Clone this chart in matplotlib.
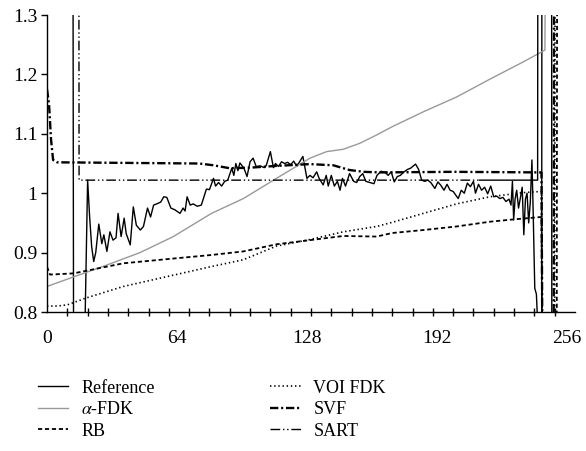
import matplotlib
matplotlib.use("Agg")
import matplotlib.pyplot as plt
from matplotlib.ticker import FuncFormatter

plt.rcParams['font.family'] = ['Liberation Serif', 'DejaVu Serif']
plt.rcParams['mathtext.fontset'] = 'stix'
plt.rcParams['lines.scale_dashes'] = False

# Reference (noisy profile); values off-scale run past the axis limits
ref_x = [0, 12.8, 13.1, 18.3, 20, 21, 22, 23, 24, 25.5, 27, 28, 29.5, 31, 32.5, 34, 35, 36.5, 38, 39,
         41, 42.5, 44, 46, 47.5, 49.5, 51, 52.5, 54, 56, 57.5, 59, 61, 63, 65.5, 67, 68, 69, 70.5, 72,
         74, 76, 77, 78.5, 80, 82, 83, 84.5, 86, 87.5, 89, 91, 92, 93, 94, 95, 97, 98.5, 100, 101.5,
         103, 105, 107, 108, 110, 111.5, 112.5, 114, 115.5, 117, 118.5, 120, 121.5, 123, 126, 128, 129.5, 131, 132.8, 134,
         136, 137.5, 138.5, 140, 141.5, 143, 144.3, 145.5, 147, 149, 151, 152.5, 154, 155.5, 157, 159, 161, 162.5,
         164.5, 166.5, 168, 169.5, 171, 172.5, 174, 175.5, 177.5, 179, 181.5, 183, 184.5, 186, 187.5, 189, 191, 192.5,
         194, 195.5, 197, 198.5, 200, 202.5, 204, 205.5, 207, 208.5, 210, 211, 212.5, 214, 215.5, 217, 218.5, 220,
         221.5, 223, 224.5, 226, 227.5, 228.5, 229.2, 229.8, 230.5, 231.3, 232.2, 233, 234, 234.8, 235.6, 236.4, 237.2, 238,
         238.8, 239.4, 240.2, 241, 242, 243.6, 243.7, 248.5, 248.6]
ref_y = [1.4, 1.4, 0.7, 0.7, 1.022, 0.96, 0.91, 0.885, 0.90, 0.948, 0.915, 0.93, 0.902, 0.935, 0.921, 0.925, 0.966, 0.927, 0.958, 0.932,
         0.913, 0.977, 0.946, 0.938, 0.944, 0.975, 0.96, 0.98, 0.982, 0.985, 0.994, 0.993, 0.975, 0.972, 0.966, 0.975, 0.97, 0.994, 0.98, 0.982,
         0.978, 0.98, 0.991, 1.007, 1.006, 1.025, 1.012, 1.018, 1.012, 1.02, 1.022, 1.042, 1.03, 1.05, 1.038, 1.051, 1.042, 1.028, 1.053, 1.059,
         1.045, 1.046, 1.043, 1.047, 1.07, 1.043, 1.05, 1.045, 1.053, 1.05, 1.052, 1.048, 1.054, 1.045, 1.062, 1.025, 1.03, 1.026, 1.036, 1.025,
         1.014, 1.03, 1.012, 1.03, 1.012, 1.02, 1.005, 1.025, 1.012, 1.033, 1.02, 1.018, 1.028, 1.033, 1.02, 1.018, 1.016, 1.03,
         1.037, 1.035, 1.03, 1.036, 1.019, 1.028, 1.03, 1.035, 1.04, 1.042, 1.049, 1.04, 1.022, 1.02, 1.022, 1.018, 1.008, 1.019,
         1.013, 1.005, 1.015, 1.005, 1.003, 0.991, 1.005, 1.0, 1.017, 1.011, 1.02, 1.0, 1.015, 1.005, 1.01, 0.999, 1.012, 0.994,
         0.995, 0.991, 0.993, 0.986, 0.99, 0.98, 1.02, 0.955, 0.99, 1.005, 0.975, 0.99, 1.01, 0.93, 0.99, 1.0, 0.95, 0.985,
         1.056, 0.97, 0.84, 0.83, 0.75, 0.75, 1.4, 1.4, 0.7]

afdk_x = [0, 13, 29.4, 45.8, 62.2, 81, 96.7, 113, 129.5, 137.7, 145.9, 154, 162.3, 170, 185.3, 201.7, 218.1, 234.5, 245.2, 245.4]
afdk_y = [0.843, 0.859, 0.879, 0.900, 0.927, 0.966, 0.991, 1.025, 1.059, 1.070, 1.074, 1.084, 1.098, 1.112, 1.137, 1.162, 1.192, 1.221, 1.241, 1.4]

rb_x = [0, 1.5, 13, 37.6, 62.2, 81, 96.7, 113, 129.5, 145.9, 162.3, 170, 185.3, 201.7, 218.1, 230, 243.5, 244, 251, 251.2]
rb_y = [0.876, 0.863, 0.865, 0.882, 0.890, 0.896, 0.902, 0.914, 0.921, 0.928, 0.927, 0.933, 0.938, 0.944, 0.952, 0.956, 0.960, 0.7, 0.7, 1.4]

voi_x = [0, 5, 10, 18.7, 37.6, 62.2, 80.3, 96.7, 113, 129.5, 145.9, 162.3, 170, 185.3, 201.7, 218.1, 234.5, 243.5, 244, 250, 250.2]
voi_y = [0.81, 0.81, 0.812, 0.823, 0.843, 0.862, 0.876, 0.888, 0.911, 0.922, 0.935, 0.944, 0.951, 0.966, 0.982, 0.994, 1.001, 1.003, 0.7, 0.7, 1.4]

svf_x = [0, 1, 2, 3, 5, 40, 75, 82, 90, 100, 113, 129.5, 141, 149, 156, 164, 200, 243.5, 244, 249.5, 249.7]
svf_y = [1.175, 1.15, 1.09, 1.056, 1.052, 1.051, 1.05, 1.047, 1.042, 1.043, 1.046, 1.049, 1.047, 1.039, 1.036, 1.035, 1.036, 1.035, 0.7, 0.7, 1.4]

sart_x = [0, 15.7, 15.8, 213, 241.6, 241.7]
sart_y = [1.4, 1.4, 1.022, 1.022, 1.022, 1.4]

xlabels = [0, 64, 128, 192, 256]
yticks = [0.8, 0.9, 1.0, 1.1, 1.2, 1.3]

fig = plt.figure(figsize=(5.86, 4.51), dpi=100)
ax = fig.add_axes([0.0802, 0.3082, 0.901, 0.6585])

ax.plot(ref_x, ref_y, color='black', lw=1.0, label='Reference')
ax.plot(afdk_x, afdk_y, color='#999999', lw=1.0, label=r'$\alpha$-FDK')
ax.plot(rb_x, rb_y, color='black', lw=1.3, dashes=(3, 2), label='RB')
ax.plot(voi_x, voi_y, color='black', lw=1.2, dashes=(1, 2), label='VOI FDK')
ax.plot(svf_x, svf_y, color='black', lw=1.7, dashes=(6, 2, 1.5, 2), label='SVF')
ax.plot(sart_x[:4], sart_y[:4], color='black', lw=1.0, dashes=(7, 2, 1, 2, 1, 2), label='SART')
ax.plot(sart_x[3:], sart_y[3:], color='black', lw=1.0)

ax.set_xlim(0, 260)
ax.set_ylim(0.8, 1.3)
ax.spines['top'].set_visible(False)
ax.spines['right'].set_visible(False)
ax.spines['left'].set_linewidth(1.0)
ax.spines['bottom'].set_linewidth(1.0)

ax.set_xticks(xlabels)
ax.set_xticks(range(0, 251, 10), minor=True)
ax.tick_params(axis='x', which='major', length=0, pad=13, labelsize=14)
ax.tick_params(axis='x', which='minor', length=6, direction='inout', width=1)
ax.set_yticks(yticks)
ax.yaxis.set_major_formatter(FuncFormatter(lambda v, p: f"{v:g}"))
ax.tick_params(axis='y', length=4, direction='out', width=1, labelsize=14, pad=3)

fig.legend(loc='upper left', bbox_to_anchor=(0.049, 0.178), ncol=2, frameon=False,
           fontsize=13, handlelength=1.7, handletextpad=0.7, columnspacing=6.4,
           labelspacing=0.25, borderpad=0)

fig.savefig('out.png', dpi=100)
